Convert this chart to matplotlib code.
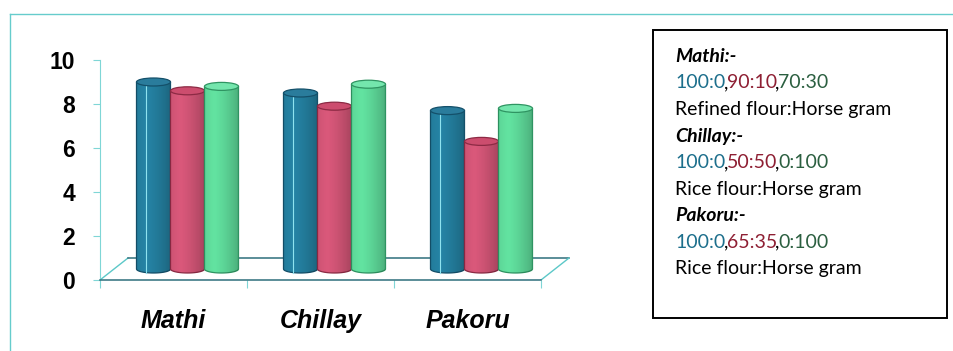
import numpy as np
import matplotlib
matplotlib.use("Agg")
import matplotlib.pyplot as plt
from matplotlib.patches import Ellipse, Polygon, Rectangle

# products and scores for the three flour blends
products = ["Mathi", "Chillay", "Pakoru"]
blend_a = [8.5, 8.0, 7.2]   # 100:0
blend_b = [8.1, 7.4, 5.8]   # 90:10 / 50:50 / 65:35
blend_c = [8.3, 8.4, 7.3]   # 70:30 / 0:100 / 0:100
yticks = [0, 2, 4, 6, 8, 10]

# legend box notes
notes = [
    ("Mathi:-", [("100:0", "b"), (",", "k"), ("90:10", "r"), (",", "k"), ("70:30", "g")],
     "Refined flour:Horse gram"),
    ("Chillay:-", [("100:0", "b"), (",", "k"), ("50:50", "r"), (",", "k"), ("0:100", "g")],
     "Rice flour:Horse gram"),
    ("Pakoru:-", [("100:0", "b"), (",", "k"), ("65:35", "r"), (",", "k"), ("0:100", "g")],
     "Rice flour:Horse gram"),
]

body_col = ["#2583a4", "#d9587a", "#62e2a0"]
edge_col = ["#14506a", "#8c2a44", "#2f9462"]
top_col = ["#2a7c9c", "#cc4d6e", "#74e6ad"]
text_col = {"b": "#1d6f8c", "r": "#8e1f33", "g": "#2b5f40", "k": "black"}

W, H = 954, 351
fig = plt.figure(figsize=(W / 100, H / 100), dpi=100)

# plot area: x in category units (147 px), y in value units (22 px)
ax = fig.add_axes([100 / W, (H - 280) / H, 480 / W, 220 / H])
depth_dx, depth_dy = 28 / 147, 1.0   # oblique offset of the floor's back edge
bw = 34 / 147                          # cylinder diameter
eh = 8 / 22                            # ellipse height of the caps

# floor
ax.plot([0, depth_dx], [0, depth_dy], color="#5cc8c8", lw=1, zorder=1)
ax.plot([depth_dx, 3 + depth_dx], [depth_dy, depth_dy], color="#2e6f7c", lw=1.1, zorder=1)
ax.plot([3, 3 + depth_dx], [0, depth_dy], color="#5cc8c8", lw=1, zorder=1)

# horizontal shading for the cylinders
t = np.linspace(0, 1, 64)
dark = 0.35 * np.abs(t - 0.3) ** 1.4
shade = np.zeros((2, 64, 4))
shade[..., 3] = dark


def cylinder(xc, v, i):
    base = depth_dy / 2
    x0, x1 = xc - bw / 2, xc + bw / 2
    th = np.linspace(np.pi, 2 * np.pi, 40)
    outline = [(x0, base + v), (x0, base)]
    outline += list(zip(xc + bw / 2 * np.cos(th), base + eh / 2 * np.sin(th)))
    outline += [(x1, base), (x1, base + v)]
    body = Polygon(outline, closed=True, fc=body_col[i], ec=edge_col[i], lw=0.9, zorder=3 + i)
    ax.add_patch(body)
    img = ax.imshow(shade, extent=[x0, x1, base - eh, base + v], aspect="auto",
                    zorder=3 + i + 0.1, interpolation="bilinear")
    img.set_clip_path(body)
    if i == 0:
        ax.plot([x0 + bw * 0.28] * 2, [base - eh / 2, base + v], color="#8fe3ef", lw=0.8,
                zorder=3 + i + 0.2)
    ax.add_patch(Ellipse((xc, base + v), bw, eh, fc=top_col[i], ec=edge_col[i], lw=0.9,
                         zorder=3 + i + 0.3))


for k in range(len(products)):
    center = k + 0.5 + depth_dx / 2
    for i, series in enumerate([blend_a, blend_b, blend_c]):
        cylinder(center + (i - 1) * bw, series[k], i)

ax.set_xlim(0, 480 / 147)
ax.set_ylim(0, 10)
for s in ["top", "right"]:
    ax.spines[s].set_visible(False)
ax.spines["left"].set_color("#7fd6d6")
ax.spines["left"].set_bounds(0, 10)
ax.spines["bottom"].set_color("#2e6f7c")
ax.spines["bottom"].set_linewidth(1.1)
ax.spines["bottom"].set_bounds(0, 3)
ax.set_yticks(yticks)
ax.set_yticklabels([str(v) for v in yticks], fontsize=16.5, fontweight="bold",
                   family="Liberation Sans")
ax.tick_params(axis="y", direction="out", length=5, color="#7fd6d6", pad=13)
ax.set_xticks([0, 1, 2, 3])
ax.set_xticklabels([])
ax.tick_params(axis="x", direction="out", length=6, color="#7fd6d6")
for k, name in enumerate(products):
    ax.text(k + 0.5, -48 / 220, name, transform=ax.get_xaxis_transform(),
            ha="center", va="baseline", fontsize=18, fontweight="bold", fontstyle="italic",
            family="Liberation Sans")

# outer chart border
fig.add_artist(plt.Line2D([10 / W, 10 / W], [0, 1 - 14 / H], color="#66cccc", lw=1))
fig.add_artist(plt.Line2D([10 / W, 1], [1 - 14 / H, 1 - 14 / H], color="#66cccc", lw=1))

# legend box
fig.add_artist(Rectangle((653 / W, 1 - 318 / H), (947 - 653) / W, (318 - 30) / H,
                         transform=fig.transFigure, fill=False, ec="black", lw=1.4))

renderer = fig.canvas.get_renderer()
fkw = dict(family="Lato", fontsize=14, va="baseline")
x_text = 675 / W
line = 0
for head, parts, desc in notes:
    y = 1 - (62 + 26.5 * line) / H
    fig.text(x_text, y, head, fontweight="bold", fontstyle="italic", **fkw)
    line += 1
    y = 1 - (62 + 26.5 * line) / H
    x = x_text
    for seg, c in parts:
        tx = fig.text(x, y, seg, color=text_col[c], **fkw)
        x += tx.get_window_extent(renderer).width / W - 1.5 / W
    line += 1
    y = 1 - (62 + 26.5 * line) / H
    fig.text(x_text, y, desc, **fkw)
    line += 1

fig.savefig("out.png", dpi=100)
